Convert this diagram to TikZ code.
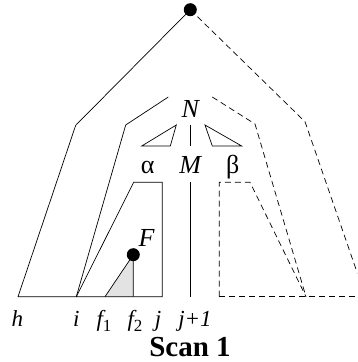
\documentclass[tikz,border=0pt]{standalone}
\usepackage{fontspec}
\setmainfont{Liberation Serif}
\begin{document}
\begin{tikzpicture}[x=1pt,y=-1pt,
  ln/.style={line width=0.7pt,line join=miter},
  dsh/.style={line width=0.7pt,dash pattern=on 6pt off 4pt},
  dot/.style={circle,fill=black,inner sep=0pt,minimum size=13pt},
  lab/.style={anchor=base,inner sep=0pt,font=\fontsize{23}{23}\selectfont\itshape},
  big/.style={anchor=base,inner sep=0pt,font=\fontsize{26}{26}\selectfont\itshape},
  grk/.style={anchor=base,inner sep=0pt,font=\fontsize{26}{26}\selectfont},
  ttl/.style={anchor=base,inner sep=0pt,font=\fontsize{29}{29}\selectfont\bfseries}]
\useasboundingbox (0,0) rectangle (357,362);
\clip (0,0) rectangle (357,362);
% coordinates
\coordinate (h) at (18,296.7);
\coordinate (i) at (76.3,296.7);
\coordinate (f1) at (105,296.7);
\coordinate (f2) at (133.3,296.7);
\coordinate (j) at (162.3,296.7);
\coordinate (jp) at (190.3,296.7);
\coordinate (oL) at (75.7,125.3);
\coordinate (mLtop) at (168.3,97);
\coordinate (mL) at (125.7,125);
\coordinate (aL) at (133.7,182.3);
\coordinate (aR) at (162.3,182.3);
\coordinate (Mtop) at (190.3,182.3);
\coordinate (NMa) at (190.3,125);
\coordinate (NMb) at (190.3,146);
\coordinate (bB) at (219.3,296.7);
\coordinate (bL) at (219.3,182.3);
\coordinate (bR) at (250,182.3);
\coordinate (meet) at (306,296.7);
\coordinate (mRtop) at (212.3,97);
\coordinate (mR) at (255,124);
\coordinate (oR) at (305,121.7);
\coordinate (oRend) at (365.5,296.7);
\coordinate (edge) at (360,296.7);
% gray triangle
\fill[gray!22] (f1) -- (133.3,254.7) -- (f2) -- cycle;
% solid structure
\draw[ln] (190.3,9.7) -- (oL) -- (h) -- (j) -- (aR) -- (aL) -- (i);
\draw[ln] (mLtop) -- (mL) -- (i);
\draw[ln] (f1) -- (133.3,254.7) -- (f2);
\draw[ln] (Mtop) -- (jp);
\draw[ln] (NMa) -- (NMb);
\draw[ln] (141.7,146) -- (176.3,125) -- (170.3,146) -- cycle;
\draw[ln] (205,125) -- (212.3,146) -- (241.7,146) -- cycle;
% dashed structure
\draw[dsh] (bB) -- (bL) -- (bR) -- (meet);
\draw[dsh] (mRtop) -- (mR) -- (meet);
\draw[dsh] (bB) -- (edge);
\draw[dsh] (190.3,9.7) -- (oR) -- (oRend);
% dots
\node[dot] (top) at (190.3,9.7) {};
\node[dot] (Fdot) at (133.3,254.7) {};
% labels
\node[big] (N) at (190.3,117.3) {N};
\node[big] (M) at (190.3,173.3) {M};
\node[big] (F) at (146.5,246.7) {F};
\node[grk] (al) at (147.7,173.3) {α};
\node[grk] (be) at (232.7,173.3) {β};
\node[lab] (lh) at (17.5,326.7) {h};
\node[lab] (li) at (76.3,326.7) {i};
\node[lab] (lf1) at (104,326.7) {f\raisebox{-4.5pt}{\upshape\fontsize{17}{17}\selectfont 1}};
\node[lab] (lf2) at (135,326.7) {f\raisebox{-4.5pt}{\upshape\fontsize{17}{17}\selectfont 2}};
\node[lab] (lj) at (158,326.7) {j};
\node[lab] (ljp) at (195,326.7) {j+1};
\node[ttl] (scan) at (190,356) {Scan 1};
\end{tikzpicture}
\end{document}
